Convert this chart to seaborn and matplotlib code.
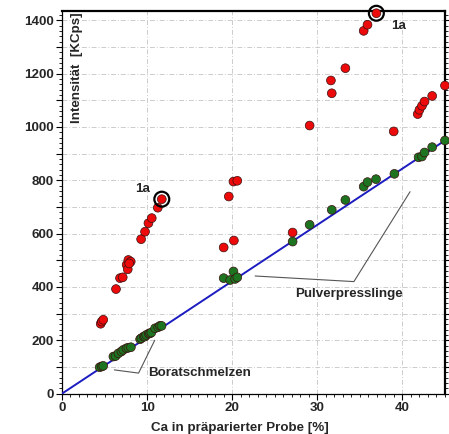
import matplotlib
matplotlib.use('Agg')
import matplotlib.pyplot as plt
import matplotlib.ticker as mticker
import pandas as pd
import seaborn as sns

red_x = [4.55, 4.67, 4.85, 6.35, 6.82, 7.14, 7.6, 7.73, 7.8, 8.08, 7.9, 9.3, 9.76, 10.16,
         10.55, 11.26, 11.73, 19.0, 19.6, 20.15, 20.2, 20.6, 27.1, 29.1, 31.6, 31.7, 33.3,
         35.45, 35.9, 36.94, 38.98, 41.8, 42.0, 42.3, 42.6, 43.5, 45.0]
red_y = [262, 270, 277, 392, 433, 436, 483, 466, 501, 495, 488, 579, 607, 639,
         658, 697, 729, 548, 739, 795, 574, 798, 604, 1005, 1174, 1126, 1220,
         1360, 1383, 1426, 983, 1048, 1064, 1079, 1095, 1116, 1155]

green_x = [4.43, 4.67, 4.85, 6.04, 6.3, 6.63, 6.98, 7.2, 7.57, 7.8, 8.1, 9.18, 9.33, 9.6,
           9.76, 9.9, 10.2, 10.35, 10.5, 10.94, 11.3, 11.5, 11.7, 19.0, 19.76, 20.15,
           20.35, 20.6, 27.1, 29.1, 31.7, 33.3, 35.45, 35.9, 36.9, 39.06, 41.9, 42.3,
           42.6, 43.5, 45.0]
green_y = [99, 102, 104, 139, 141, 151, 158, 164, 170, 172, 174, 204, 208, 214,
           214, 220, 225, 226, 229, 245, 249, 254, 254, 433, 426, 458,
           430, 436, 570, 633, 689, 726, 776, 793, 804, 824, 886, 889,
           904, 924, 949]

line_x = [0, 45]
line_y = [0, 949]

mark_x = [11.73, 36.94]
mark_y = [729, 1426]
mark_labels = ['1a', '1a']
mark_text_x = [9.5, 39.5]
mark_text_y = [768, 1379]

df = pd.DataFrame({
    'x': red_x + green_x,
    'y': red_y + green_y,
    'gruppe': ['rot'] * len(red_x) + ['gruen'] * len(green_x),
})

sns.set_style('white')
plt.rcParams['font.family'] = ['Liberation Sans', 'DejaVu Sans']
plt.rcParams['font.weight'] = 'bold'
fs = 9.6

fig = plt.figure(figsize=(4.49, 4.34), dpi=100)
ax = fig.add_axes([0.138, 0.093, 0.853, 0.882])

sns.lineplot(x=line_x, y=line_y, ax=ax, color='#1c1cc0', lw=1.4, zorder=3)
sns.scatterplot(data=df, x='x', y='y', hue='gruppe',
                palette={'rot': '#ec0a0a', 'gruen': '#1d7420'},
                s=40, edgecolor='#3a1010', linewidth=0.5, legend=False,
                ax=ax, zorder=4, clip_on=False)
ax.scatter(mark_x, mark_y, s=115, facecolors='none', edgecolors='black',
           linewidths=1.6, zorder=5, clip_on=False)
for tx, ty, lab in zip(mark_text_x, mark_text_y, mark_labels):
    ax.text(tx, ty, lab, fontsize=fs, fontweight='bold', ha='center', va='center')

# Beschriftungen mit Hinweislinien
ax.plot([6.15, 9.0, 10.9], [89, 77, 200], color='#555555', lw=0.8, zorder=2)
ax.text(10.1, 78, 'Boratschmelzen', fontsize=fs, fontweight='bold', va='center')
ax.plot([22.7, 34.3, 40.9], [441, 420, 757], color='#555555', lw=0.8, zorder=2)
ax.text(27.4, 374, 'Pulverpresslinge', fontsize=fs, fontweight='bold', va='center')

ax.set_xlim(0, 45)
ax.set_ylim(0, 1435)

ax.xaxis.set_major_locator(mticker.MultipleLocator(10))
ax.xaxis.set_minor_locator(mticker.MultipleLocator(1))
ax.yaxis.set_major_locator(mticker.MultipleLocator(100))
ax.yaxis.set_minor_locator(mticker.MultipleLocator(20))
ax.yaxis.set_major_formatter(mticker.FuncFormatter(
    lambda v, p: f'{int(v)}' if int(round(v)) % 200 == 0 else ''))

ax.tick_params(axis='both', which='major', labelsize=fs, direction='out',
               length=4, width=0.8, color='black', pad=2)
ax.tick_params(axis='both', which='minor', direction='out', length=2.2, width=0.6,
               color='black')
ax.tick_params(axis='y', which='both', right=True, left=True)
ax.tick_params(axis='x', which='both', bottom=True)
for lab in ax.get_xticklabels() + ax.get_yticklabels():
    lab.set_fontweight('bold')

ax.grid(True, which='major', color='#cccccc', linestyle=(0, (5, 2, 1, 2)), lw=0.7)
ax.set_axisbelow(True)

for side in ['left', 'bottom']:
    ax.spines[side].set_linewidth(0.9)
    ax.spines[side].set_color('black')
for side in ['top', 'right']:
    ax.spines[side].set_linewidth(1.6)
    ax.spines[side].set_color('black')

ax.set_xlabel('Ca in präparierter Probe [%]', fontsize=fs, fontweight='bold')
ax.xaxis.set_label_coords(0.465, -0.074)
ax.set_ylabel('')
ax.text(0.039, 0.995, 'Intensität  [KCps]', transform=ax.transAxes, rotation=90,
        fontsize=fs, fontweight='bold', ha='center', va='top')

fig.savefig('out.png', dpi=100)
